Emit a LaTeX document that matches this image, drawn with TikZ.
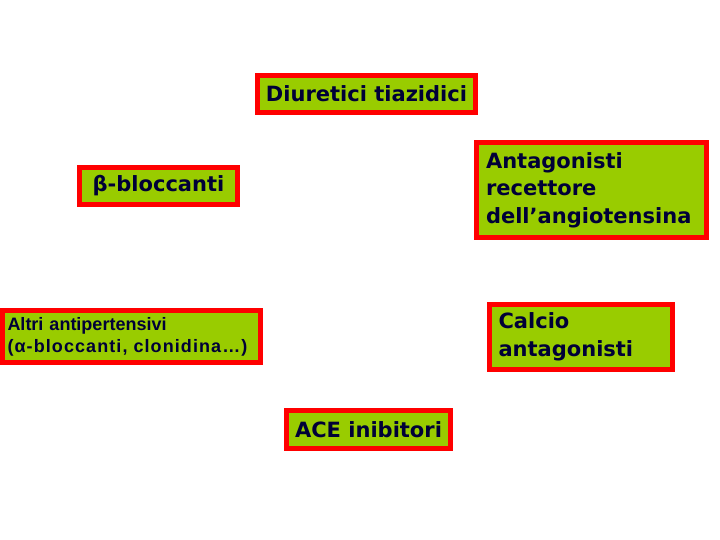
\documentclass[tikz,border=0pt]{standalone}
\usepackage{fontspec}
\setmainfont{DejaVu Sans}
\newfontfamily\arialfont{Liberation Sans}
\definecolor{boxgreen}{RGB}{153,204,0}
\definecolor{boxred}{RGB}{255,0,0}
\definecolor{navytext}{RGB}{0,0,55}
\begin{document}
\begin{tikzpicture}[x=1pt,y=-1pt,
  drug/.style={draw=boxred, line width=5pt, fill=boxgreen, text=navytext,
    font=\fontsize{21}{27.5}\selectfont\bfseries, inner sep=0pt, align=left},
]
\useasboundingbox (0,0) rectangle (720,540);
\node[drug, minimum width=218pt, minimum height=37pt] (diur) at (366.5,94) {Diuretici tiazidici};
\node[drug, minimum width=158pt, minimum height=37pt] (beta) at (158.5,186) {β-bloccanti};
\node[drug, minimum height=95pt, text width=211pt, inner xsep=9.5pt] (anta) at (591.5,190)
  {Antagonisti\\recettore\\dell’angiotensina};
\node[drug, font=\arialfont\fontsize{18}{22}\selectfont\bfseries, minimum height=52pt,
  text width=247pt, inner xsep=5.5pt] (altri) at (131,336.5)
  {Altri antipertensivi\\{\addfontfeature{LetterSpace=6}(α-bloccanti, clonidina…)}};
\node[drug, minimum height=65pt, text width=165pt, inner xsep=9pt] (calc) at (581,337)
  {Calcio\\antagonisti};
\node[drug, minimum width=164pt, minimum height=38pt] (ace) at (368.5,429.5) {ACE inibitori};
\end{tikzpicture}
\end{document}
